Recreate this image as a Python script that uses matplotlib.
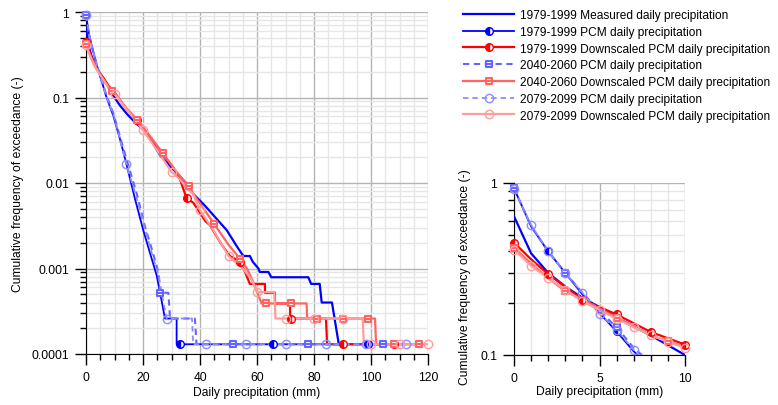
import numpy as np
import matplotlib
matplotlib.use('Agg')
import matplotlib.pyplot as plt
from matplotlib.lines import Line2D
from matplotlib.path import Path
from matplotlib.ticker import MultipleLocator, LogLocator, NullFormatter, FixedLocator

plt.rcParams['font.family'] = ['Liberation Sans', 'DejaVu Sans']
plt.rcParams['font.size'] = 8.75

# exceedance curves (x in mm, p = frequency of exceedance)
meas_x = [0, 1, 2, 3, 4, 5, 6, 8, 10, 12, 14.4, 17.5, 21.3, 26, 30.6, 35.3, 37.7, 41.8, 44.7,
          49.4, 53, 55.2, 57.5, 58.5, 60.5, 61, 64, 65, 78, 79, 82, 82.7, 86.3, 88.7]
meas_p = [0.64, 0.39, 0.30, 0.25, 0.215, 0.19, 0.165, 0.13, 0.10, 0.08, 0.064, 0.05, 0.039, 0.021,
          0.0145, 0.0098, 0.0074, 0.0054, 0.0042, 0.0028, 0.0018, 0.0014, 0.0014, 0.0012, 0.0010,
          0.00091, 0.00091, 0.00079, 0.00079, 0.00066, 0.00066, 0.0004, 0.0004, 0.00013]

pcm79_x = [0, 1, 2, 3, 4, 5, 6, 7, 9.6, 12, 14.2, 17.2, 20.1, 22.5, 24.8, 26, 27.7, 31.8, 31.8, 99]
pcm79_p = [0.93, 0.56, 0.40, 0.30, 0.225, 0.175, 0.137, 0.105, 0.061, 0.032, 0.0166, 0.0065, 0.0028,
           0.0015, 0.00083, 0.00052, 0.00026, 0.00026, 0.00013, 0.00013]

down79_x = [0, 1, 2, 4, 6, 8, 10, 14, 18, 22, 27, 31, 33, 35.3, 37.6, 40, 41.8, 43.5, 47.6, 50.5,
            54, 55.8, 57.5, 62.8, 62.8, 66.3, 66.3, 71.6, 71.6, 84.2, 84.6, 108.2]
down79_p = [0.45, 0.36, 0.295, 0.21, 0.172, 0.136, 0.115, 0.075, 0.053, 0.036, 0.022, 0.0145, 0.011,
            0.0066, 0.0059, 0.0045, 0.0036, 0.0032, 0.0019, 0.0014, 0.0012, 0.00091, 0.00066,
            0.00066, 0.00052, 0.00052, 0.00039, 0.00039, 0.00026, 0.00026, 0.00013, 0.00013]

pcm40_x = [0, 1, 2, 3, 4, 5, 6, 7, 9.6, 14.4, 17.8, 20.8, 23.3, 25.4, 26, 28.9, 29.5, 38.2, 38.8, 104.1]
pcm40_p = [0.93, 0.56, 0.40, 0.30, 0.23, 0.18, 0.145, 0.11, 0.065, 0.018, 0.0075, 0.003, 0.0016,
           0.0009, 0.00052, 0.00052, 0.00026, 0.00026, 0.00013, 0.00013]

down40_x = [0, 1, 2, 3, 4, 6, 8, 9, 10, 14, 18.4, 22, 27.1, 31, 35.9, 38.5, 41, 45.3, 50, 54,
            56.5, 58.7, 61.6, 77.4, 77.6, 101.4, 101.8, 117.2]
down40_p = [0.42, 0.34, 0.28, 0.235, 0.21, 0.165, 0.13, 0.12, 0.112, 0.076, 0.053, 0.037, 0.022,
            0.0145, 0.0093, 0.0068, 0.0052, 0.0032, 0.0019, 0.0013, 0.001, 0.00069, 0.00039,
            0.00039, 0.00026, 0.00026, 0.00013, 0.00013]

pcm20_x = [0, 1, 2, 3, 4, 5, 6, 7, 10, 14.1, 17.6, 20.6, 23.1, 25.6, 26.6, 28.3, 37.2, 37.6, 112.3]
pcm20_p = [0.92, 0.57, 0.40, 0.30, 0.23, 0.174, 0.14, 0.107, 0.058, 0.0166, 0.007, 0.003, 0.0015,
           0.0008, 0.0005, 0.00026, 0.00026, 0.00013, 0.00013]

down20_x = [0, 1, 2, 4, 7, 8, 10, 15, 20.1, 25, 30, 33, 35.5, 37.5, 40, 45, 50, 55, 58, 60,
            66.1, 66.5, 97.1, 97.5, 120]
down20_p = [0.41, 0.33, 0.28, 0.205, 0.145, 0.13, 0.11, 0.068, 0.041, 0.024, 0.0135, 0.011, 0.0085,
            0.0075, 0.0048, 0.0027, 0.0014, 0.001, 0.00075, 0.00053, 0.00053, 0.00026, 0.00026,
            0.00013, 0.00013]

# where the markers sit (x only), main chart and zoomed chart
pcm79_mk_main = [33, 65.7, 98.8]
pcm79_mk_zoom = [2, 6]
down79_mk_main = [0, 17.8, 35.3, 54, 71.8, 90.1, 108.2]
down79_mk_zoom = [0, 2, 4, 6, 8, 10]
pcm40_mk_main = [0, 26, 51.7, 78, 104.1]
pcm40_mk_zoom = [0, 3, 6]
down40_mk_main = [0, 9, 18, 27, 36, 45, 54, 63, 72, 81, 90, 99, 108, 117]
down40_mk_zoom = [0, 3, 6, 9]
pcm20_mk_main = [0, 14.1, 28.3, 42.1, 56.1, 70.2, 84.2, 98.2, 112.3]
pcm20_mk_zoom = [0, 1, 2, 3, 4, 5, 6, 7]
down20_mk_main = [0, 10, 20, 30, 40, 50, 60, 70, 80, 90, 100, 110, 120]
down20_mk_zoom = [0, 1, 2, 3, 4, 5, 6, 7, 8, 9, 10]

labels = ['1979-1999 Measured daily precipitation',
          '1979-1999 PCM daily precipitation',
          '1979-1999 Downscaled PCM daily precipitation',
          '2040-2060 PCM daily precipitation',
          '2040-2060 Downscaled PCM daily precipitation',
          '2079-2099 PCM daily precipitation',
          '2079-2099 Downscaled PCM daily precipitation']

# square with a bar across the middle
sq_bar = Path([(-1, -1), (1, -1), (1, 1), (-1, 1), (-1, -1), (-0.45, 0), (0.45, 0)],
              [Path.MOVETO, Path.LINETO, Path.LINETO, Path.LINETO, Path.CLOSEPOLY,
               Path.MOVETO, Path.LINETO])

half = dict(marker='o', fillstyle='left', markerfacecoloralt='white', markersize=5.5)
styles = [
    dict(color='#0000ff', ls='-', lw=1.6),
    dict(color='#0000ff', ls='-', lw=1.3, **half),
    dict(color='#ff0000', ls='-', lw=1.6, **half),
    dict(color='#6464ff', ls=(0, (3, 2.2)), lw=1.5, marker=sq_bar, markerfacecolor='white',
         markersize=5, markeredgewidth=1.5),
    dict(color='#ff6464', ls='-', lw=1.6, marker=sq_bar, markerfacecolor='white',
         markersize=5, markeredgewidth=1.5),
    dict(color='#8c8cff', ls=(0, (3, 2.2)), lw=1.3, marker='o', markerfacecolor='none',
         markersize=6, markeredgewidth=1.0),
    dict(color='#ff9c9c', ls='-', lw=1.6, marker='o', markerfacecolor='none',
         markersize=6, markeredgewidth=1.0),
]

series = [(meas_x, meas_p, None, None),
          (pcm79_x, pcm79_p, pcm79_mk_main, pcm79_mk_zoom),
          (down79_x, down79_p, down79_mk_main, down79_mk_zoom),
          (pcm40_x, pcm40_p, pcm40_mk_main, pcm40_mk_zoom),
          (down40_x, down40_p, down40_mk_main, down40_mk_zoom),
          (pcm20_x, pcm20_p, pcm20_mk_main, pcm20_mk_zoom),
          (down20_x, down20_p, down20_mk_main, down20_mk_zoom)]


def draw(ax, zoomed):
    for (x, p, mk_main, mk_zoom), st in zip(series, styles):
        line_st = {k: v for k, v in st.items() if k in ('color', 'ls', 'lw')}
        ax.plot(x, p, **line_st, zorder=3)
        mk = mk_zoom if zoomed else mk_main
        if mk:
            mp = 10 ** np.interp(mk, x, np.log10(p))
            mk_st = {k: v for k, v in st.items() if k not in ('ls', 'lw')}
            ax.plot(mk, mp, ls='none', clip_on=False, zorder=4, **mk_st)


def style_axes(ax):
    ax.set_yscale('log')
    for s in ('top', 'right'):
        ax.spines[s].set_visible(False)
    ax.yaxis.set_minor_locator(LogLocator(base=10, subs=np.arange(2, 10)))
    ax.yaxis.set_minor_formatter(NullFormatter())
    ax.tick_params(which='major', direction='out', length=8, width=1, pad=4)
    ax.tick_params(which='minor', direction='out', length=4.5, width=1)
    ax.grid(True, which='major', color='#b4b4b4', lw=1.0, zorder=0)
    ax.grid(True, which='minor', color='#e6e6e6', lw=1.0, zorder=0)
    ax.set_axisbelow(True)


fig = plt.figure(figsize=(7.78, 4.06), dpi=100)

ax = fig.add_axes([86 / 778, 51 / 406, 342 / 778, 342 / 406])
style_axes(ax)
draw(ax, False)
ax.set_xlim(0, 120)
ax.set_ylim(0.0001, 1)
ax.xaxis.set_major_locator(MultipleLocator(20))
ax.xaxis.set_minor_locator(MultipleLocator(5))
ax.yaxis.set_major_locator(FixedLocator([0.0001, 0.001, 0.01, 0.1, 1]))
ax.set_yticklabels(['0.0001', '0.001', '0.01', '0.1', '1'])
ax.set_xlabel('Daily precipitation (mm)')
ax.set_ylabel('Cumulative frequency of exceedance (-)')
ax.xaxis.set_label_coords(0.5, -0.094)
ax.yaxis.set_label_coords(-0.181, 0.5)

ax2 = fig.add_axes([514 / 778, 50 / 406, 171 / 778, 172 / 406])
style_axes(ax2)
draw(ax2, True)
ax2.set_xlim(0, 10)
ax2.set_ylim(0.1, 1)
ax2.xaxis.set_major_locator(MultipleLocator(5))
ax2.xaxis.set_minor_locator(MultipleLocator(1))
ax2.yaxis.set_major_locator(FixedLocator([0.1, 1]))
ax2.set_yticklabels(['0.1', '1'])
ax2.set_xlabel('Daily precipitation (mm)')
ax2.set_ylabel('Cumulative frequency of exceedance (-)')
ax2.xaxis.set_label_coords(0.5, -0.174)
ax2.yaxis.set_label_coords(-0.254, 0.46)

handles = []
for st in styles:
    handles.append(Line2D([], [], **st))
fig.legend(handles, labels, loc='upper left', bbox_to_anchor=(463 / 778, 1 - 10 / 406),
           frameon=False, handlelength=4.3, handletextpad=0.5, labelspacing=0.4,
           borderpad=0, borderaxespad=0, numpoints=1, fontsize=8.6)

fig.savefig('out.png', dpi=100)
